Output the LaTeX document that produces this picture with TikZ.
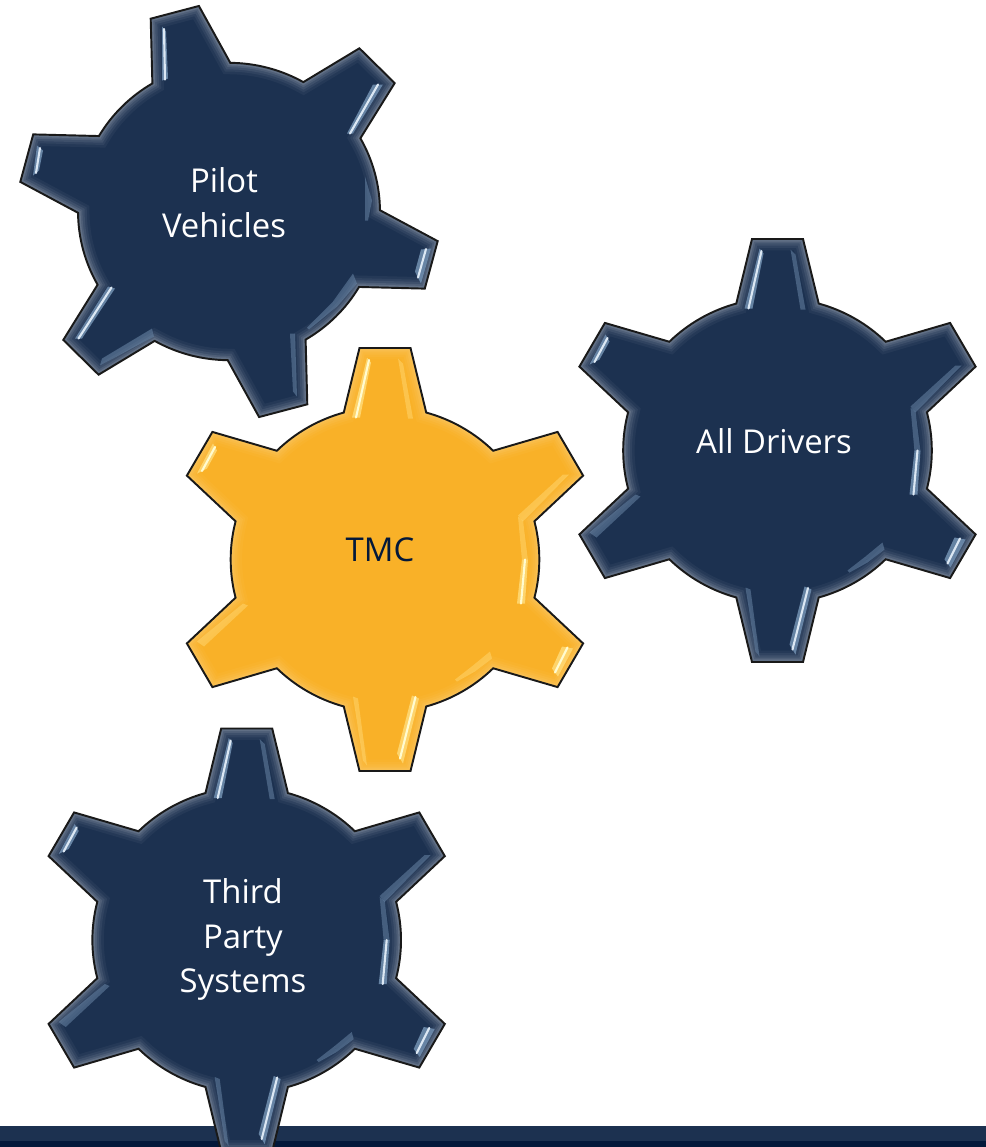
\documentclass[tikz,border=0pt]{standalone}
\usepackage{fontspec}
\setmainfont{Open Sans}
\usetikzlibrary{calc}

\definecolor{navy}{HTML}{1C3150}
\definecolor{deepnavy}{HTML}{03183A}
\definecolor{gold}{HTML}{F9B128}

\tikzset{
  gearedge/.style={draw=black!90, line width=1.1pt, line join=miter},
  gearlabel/.style={align=center, font=\fontsize{18.7}{25.5}\selectfont},
  faintstrip/.style={fill=shinemid, opacity=.5},
  glintedge/.style={fill=shinemid, opacity=.9},
  glintcore/.style={draw=shinetop, line width=1.2pt, line cap=round}
}

% one tooth every 60 degrees, arc of the hub between two teeth
\newcommand{\gearpath}{(83.2:213) \foreach \a in {90,150,...,390}{ -- (\a-6.8:213) -- (\a+6.8:213) -- (\a+15.5:152.5) arc[start angle=\a+15.5, end angle=\a+44.5, radius=152.5]} -- cycle}

\newcommand{\gearbody}[2]{%
  \fill[#1] \gearpath;
  \begin{scope}
    \clip \gearpath;
    \foreach \w/\o in {13/.08, 10/.1, 7.5/.14, 5/.18, 3/.25}
      \draw[#2, line width=\w pt, opacity=\o] \gearpath;
  \end{scope}
  \path[gearedge] \gearpath;
}
\newcommand{\faint}[4]{\fill[faintstrip] (#1) -- (#2) -- (#3) -- (#4) -- cycle;}
\newcommand{\glint}[4]{%
  \fill[glintedge] (#1) -- (#2) -- (#3) -- (#4) -- cycle;
  \draw[glintcore] ($(#1)!.5!(#2)$) -- ($(#3)!.5!(#4)$);
}
% the same bevel marks on the three upright gears
\newcommand{\uprightmarks}{%
  \glint{-18,-202}{-14,-197}{-25,-142}{-33,-142}
  \faint{13,-201}{18,-196}{28,-141}{23,-141}
  \glint{-172,-116}{-168,-109}{-178,-91}{-188,-86}
  \faint{184,-85}{178,-85}{133,-44}{138,-38}
  \faint{133,-43}{138,-39}{143,1}{137,1}
  \glint{137,0}{143,0}{140,44}{132,44}
  \faint{-137,46}{-142,44}{-188,82}{-181,87}
  \glint{177,87}{188,89}{173,117}{167,109}
  \faint{105,92}{107,99}{90,112}{88,106}
  \faint{90,112}{88,106}{70,120}{72,122}
  \faint{-32,137}{-27,139}{-18,206}{-22,201}
  \glint{27,136}{34,139}{18,204}{12,194}
}

\begin{document}
\begin{tikzpicture}[x=.02cm, y=-.02cm]
\clip (0,0) rectangle (986,1147);

% band along the bottom
\fill[navy] (0,1126) rectangle (986,1141);
\fill[deepnavy] (0,1141) rectangle (986,1147);

% Pilot Vehicles
\definecolor{shinemid}{HTML}{6E8CAD}
\definecolor{shinetop}{HTML}{DCE8F4}
\begin{scope}[shift={(229,211.5)}]
  \begin{scope}[xscale=.99, yscale=.975, rotate=15]
    \gearbody{navy}{navy!45!white}
  \end{scope}
  \glint{-67,-185}{-63,-180}{-61,-133}{-67,-131}
  \glint{-192,-66}{-186,-61}{-190,-41}{-196,-36}
  \glint{144,-127}{154,-127}{124,-78}{118,-78}
  \faint{136,-35}{143,-11}{139,9}{136,9}
  \glint{192,38}{202,37}{192,72}{186,60}
  \faint{124,62}{128,72}{108,95}{104,90}
  \faint{108,95}{104,90}{78,116}{80,118}
  \faint{61,122}{66,122}{68,185}{64,180}
  \glint{-121,75}{-114,77}{-147,127}{-154,127}
  \faint{-77,117}{-75,125}{-129,154}{-127,147}
\end{scope}
\node[gearlabel, text=white] (pilot) at (224,202.5) {Pilot\\Vehicles};

% All Drivers
\begin{scope}[shift={(777.5,450.5)}]
  \begin{scope}[xscale=1.012]
    \gearbody{navy}{navy!45!white}
  \end{scope}
  \uprightmarks
\end{scope}
\node[gearlabel, text=white] (drivers) at (774,441) {All Drivers};

% TMC
\definecolor{shinemid}{HTML}{FFD873}
\definecolor{shinetop}{HTML}{FFFBD0}
\begin{scope}[shift={(385,559.5)}]
  \begin{scope}[xscale=1.012]
    \gearbody{gold}{gold!65!white}
  \end{scope}
  \uprightmarks
\end{scope}
\node[gearlabel, text=deepnavy] (tmc) at (380,550) {TMC};

% Third Party Systems
\definecolor{shinemid}{HTML}{6E8CAD}
\definecolor{shinetop}{HTML}{DCE8F4}
\begin{scope}[shift={(246.7,940)}]
  \begin{scope}[xscale=1.012]
    \gearbody{navy}{navy!45!white}
  \end{scope}
  \uprightmarks
\end{scope}
\node[gearlabel, text=white] (third) at (243,939.5) {Third\\Party\\Systems};
\end{tikzpicture}
\end{document}
